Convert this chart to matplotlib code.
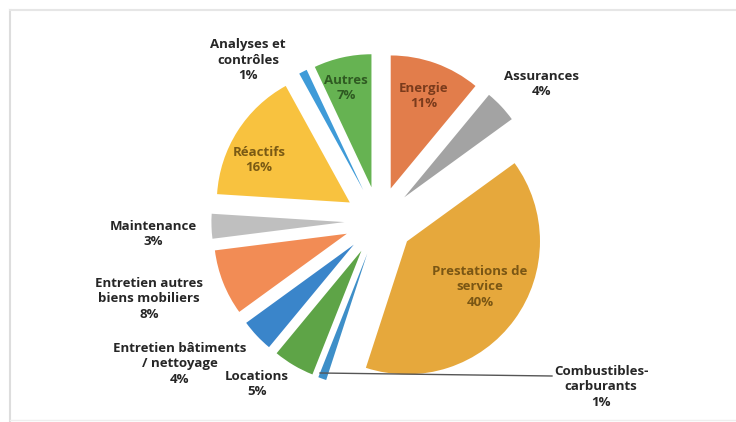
import matplotlib.pyplot as plt

# data (clockwise from the top)
categories = ["Energie", "Assurances", "Prestations de\nservice", "Combustibles-\ncarburants",
              "Locations", "Entretien bâtiments\n/ nettoyage", "Entretien autres\nbiens mobiliers",
              "Maintenance", "Réactifs", "Analyses et\ncontrôles", "Autres"]
shares = [11, 4, 40, 1, 5, 4, 8, 3, 16, 1, 7]
colors = ["#E27D4B", "#A3A3A3", "#E6A83C", "#3E8FC8", "#5EA447", "#3A85CA",
          "#F28C55", "#BFBFBF", "#F8C23F", "#3F9BD8", "#66B352"]

# pixel layout of the original picture
W, H = 736, 422
cx, cy, R = 379, 221, 133

fig = plt.figure(figsize=(W / 100, H / 100), dpi=100)
ax = fig.add_axes([0, 0, 1, 1])

ax.pie(shares, colors=colors, startangle=90, counterclock=False,
       explode=[0.26] * len(shares), radius=1,
       wedgeprops=dict(linewidth=0))

# axes in units of the radius, centred where the pie sits in the picture
ax.set_xlim(-cx / R, (W - cx) / R)
ax.set_ylim(-(H - cy) / R, cy / R)
ax.set_aspect("equal")
ax.axis("off")


def px(x, y):
    return (x - cx) / R, (cy - y) / R


font = dict(family=["Open Sans", "DejaVu Sans"], fontweight="bold", fontsize=9.5,
            ha="center", va="center", linespacing=1.25)

# label positions (pixels) - layout only
inside = {"Energie": (424, 96, "#7a3b1c"), "Autres": (346, 88, "#2f5a22"),
          "Réactifs": (259, 160, "#7a5a14"),
          "Prestations de\nservice": (480, 287, "#7a5614")}
outside = {"Assurances": (542, 84), "Combustibles-\ncarburants": (601, 387),
           "Locations": (257, 384), "Entretien bâtiments\n/ nettoyage": (180, 364),
           "Entretien autres\nbiens mobiliers": (149, 299), "Maintenance": (153, 234),
           "Analyses et\ncontrôles": (248, 60)}

for name, val in zip(categories, shares):
    txt = "{}\n{}%".format(name, val)
    if name in inside:
        x, y, c = inside[name]
        ax.text(*px(x, y), txt, color=c, **font)
    else:
        x, y = outside[name]
        ax.text(*px(x, y), txt, color="#262626", **font)

# leader line for the small combustibles slice
ax.plot(*zip(px(320, 373), px(552, 376)), color="#555555", lw=1)

# faint frame of the scanned chart area
fig.add_artist(plt.Line2D([10 / W, 10 / W], [0, 1 - 10 / H], color="#dddddd", lw=1.5))
fig.add_artist(plt.Line2D([10 / W, 1], [1 - 10 / H, 1 - 10 / H], color="#e6e6e6", lw=1.5))
fig.add_artist(plt.Line2D([10 / W, 1], [2 / H, 2 / H], color="#eeeeee", lw=1))

fig.savefig("out.png", dpi=100)
